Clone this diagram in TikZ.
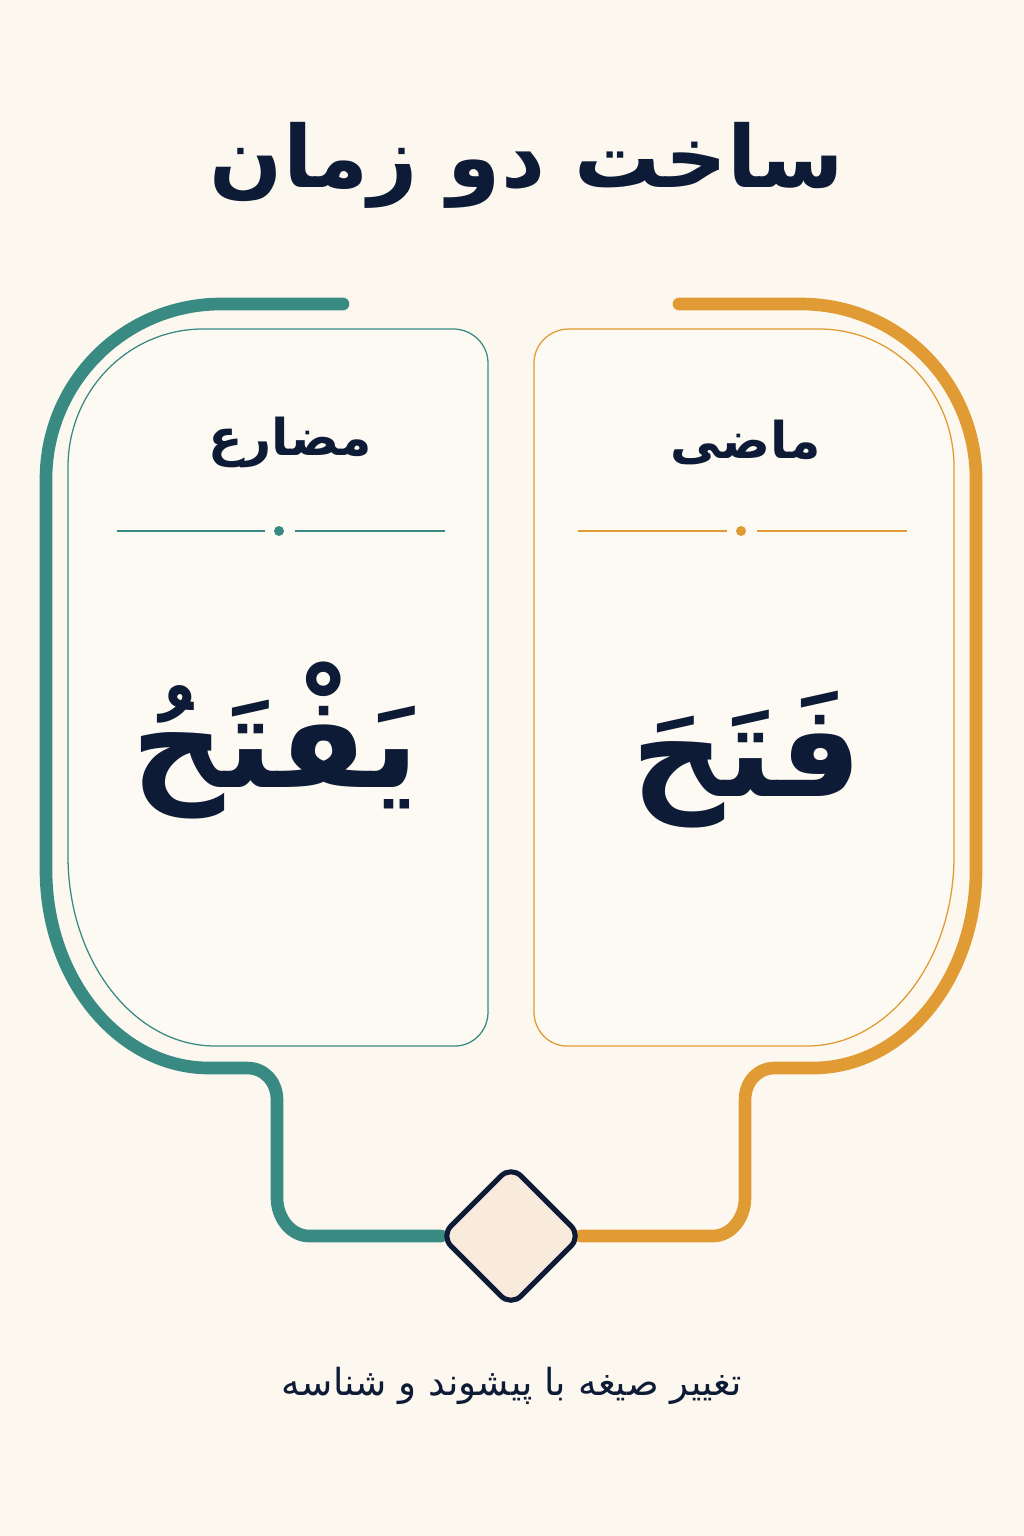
\documentclass[tikz,border=0pt]{standalone}
\usepackage{fontspec}
\usetikzlibrary{shapes.geometric,backgrounds}
\TeXXeTstate=1
\newfontfamily\arabicfont[Script=Arabic]{DejaVu Sans}
\definecolor{bgcream}{HTML}{FCF8EF}
\definecolor{cardfill}{HTML}{FDFAF3}
\definecolor{tealc}{HTML}{3A8A84}
\definecolor{orangec}{HTML}{E09B34}
\definecolor{navy}{HTML}{0E1B36}
\definecolor{hubfill}{HTML}{F8EBDC}

\begin{document}
\begin{tikzpicture}[x=0.025cm, y=-0.025cm]
\tikzset{ inner sep=0pt, outer sep=0pt,
  frame/.style={line width=9pt, line cap=round, line join=round},
  card/.style={line width=0.9pt, fill=cardfill},
  rule/.style={line width=0.9pt},
  label/.style={text=navy, font=\arabicfont\bfseries\fontsize{36}{40}\selectfont},
  word/.style={text=navy, font=\arabicfont\bfseries\fontsize{92}{100}\selectfont},
}

\useasboundingbox (0,0) rectangle (1024,1536);
\begin{scope}[on background layer]
\fill [bgcream] (0,0) rectangle (1024,1536);
\end{scope}

%\draw [lightgray, dashed] (0,0) grid[step=100] (1024,1536);

\node [text=navy, font=\arabicfont\bfseries\fontsize{61}{64}\selectfont] (T) at (527,165) {\beginR ساخت دو زمان\endR};

% cards
\draw [card, draw=tealc] (488,363) .. controls (488,344.2) and (472.3,329) .. (453,329) -- (203,329)
  .. controls (128.5,329) and (68,390.8) .. (68,467) -- (68,856)
  .. controls (68,960.9) and (133.9,1046) .. (215,1046) -- (455,1046)
  .. controls (473.2,1046) and (488,1030.8) .. (488,1012) -- cycle;
\draw [card, draw=orangec] (534,363) .. controls (534,344.2) and (549.7,329) .. (569,329) -- (819,329)
  .. controls (893.5,329) and (954,390.8) .. (954,467) -- (954,856)
  .. controls (954,960.9) and (888.1,1046) .. (807,1046) -- (567,1046)
  .. controls (548.8,1046) and (534,1030.8) .. (534,1012) -- cycle;

\node [label] (N) at (290,442) {\beginR مضارع\endR};
\node [label] (P) at (746,442) {\beginR ماضی\endR};

\draw [rule, tealc] (117,531) -- (265,531);
\draw [rule, tealc] (295,531) -- (445,531);
\fill [tealc] (279,531) circle (5);
\draw [rule, orangec] (578,531) -- (727,531);
\draw [rule, orangec] (757,531) -- (907,531);
\fill [orangec] (741,531) circle (5);

\node [word] (NW) at (275,740) {\beginR یَفْتَحُ\endR};
\node [word] (PW) at (747,760) {\beginR فَتَحَ\endR};

% hub and frames
\node [diamond, aspect=1, draw=navy, line width=3.6pt, fill=hubfill, minimum size=3.5cm, rounded corners=0.35cm] (H) at (511,1236) {};

\coordinate (A) at (343,304);
\coordinate (B) at (679,304);
\begin{scope}[on background layer]
\draw [frame, tealc] (A) -- (221,304) .. controls (124.4,304) and (46,382.4) .. (46,479) -- (46,870)
  .. controls (46,979) and (119,1068) .. (209,1068) -- (247,1068)
  .. controls (264.7,1068) and (277,1082) .. (277,1100) -- (277,1198)
  .. controls (277,1218) and (291,1236) .. (309,1236) -- (H.west);
\draw [frame, orangec] (B) -- (801,304) .. controls (897.6,304) and (976,382.4) .. (976,479) -- (976,870)
  .. controls (976,979) and (903,1068) .. (813,1068) -- (775,1068)
  .. controls (757.3,1068) and (745,1082) .. (745,1100) -- (745,1198)
  .. controls (745,1218) and (731,1236) .. (713,1236) -- (H.east);
\end{scope}

\node [text=navy, font=\arabicfont\fontsize{26.5}{30}\selectfont] (S) at (512,1386) {\beginR تغییر صیغه با پیشوند و شناسه\endR};

\end{tikzpicture}
\end{document}
